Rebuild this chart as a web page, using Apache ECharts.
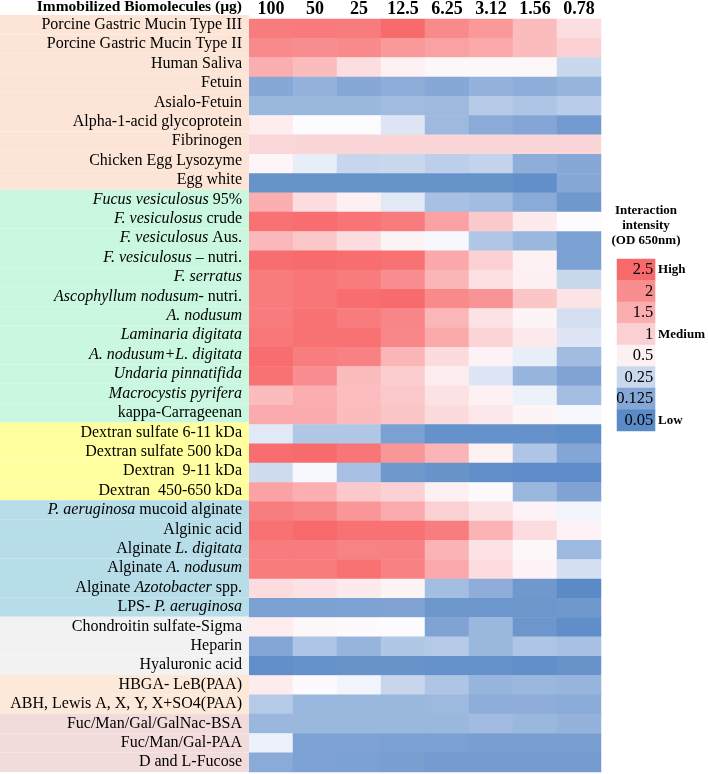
<!DOCTYPE html>
<html>
<head>
<meta charset="utf-8">
<script src="https://cdn.jsdelivr.net/npm/echarts@6/dist/echarts.min.js"></script>
<style>
  html, body { margin: 0; padding: 0; background: #fff; }
  #chart { width: 708px; height: 774px; }
</style>
</head>
<body>
<div id="chart"></div>
<script>
var concentrations = ["100", "50", "25", "12.5", "6.25", "3.12", "1.56", "0.78"];

var biomolecules = [
  "Porcine Gastric Mucin Type III",
  "Porcine Gastric Mucin Type II",
  "Human Saliva",
  "Fetuin",
  "Asialo-Fetuin",
  "Alpha-1-acid glycoprotein",
  "Fibrinogen",
  "Chicken Egg Lysozyme",
  "Egg white",
  "{i|Fucus vesiculosus} 95%",
  "{i|F. vesiculosus} crude",
  "{i|F. vesiculosus} Aus.",
  "{i|F. vesiculosus} – nutri.",
  "{i|F. serratus}",
  "{i|Ascophyllum nodusum}- nutri.",
  "{i|A. nodusum}",
  "{i|Laminaria digitata}",
  "{i|A. nodusum+L. digitata}",
  "{i|Undaria pinnatifida}",
  "{i|Macrocystis pyrifera}",
  "kappa-Carrageenan",
  "Dextran sulfate 6-11 kDa",
  "Dextran sulfate 500 kDa",
  "Dextran  9-11 kDa",
  "Dextran  450-650 kDa",
  "{i|P. aeruginosa} mucoid alginate",
  "Alginic acid",
  "Alginate {i|L. digitata}",
  "Alginate {i|A. nodusum}",
  "Alginate {i|Azotobacter} spp.",
  "LPS- {i|P. aeruginosa}",
  "Chondroitin sulfate-Sigma",
  "Heparin",
  "Hyaluronic acid",
  "HBGA- LeB(PAA)",
  "ABH, Lewis A, X, Y, X+SO4(PAA)",
  "Fuc/Man/Gal/GalNac-BSA",
  "Fuc/Man/Gal-PAA",
  "D and L-Fucose"
];

// rows per group, top to bottom
var groupSizes = [9, 12, 4, 6, 3, 2, 3];

// OD 650nm, one row per biomolecule, columns follow concentrations
var glycoproteinOD = [
  [2.25, 2.28, 2.25, 2.48, 2.05, 1.85, 1.3, 0.8],
  [2.05, 2.0, 2.05, 1.85, 1.7, 1.58, 1.3, 0.98],
  [1.5, 1.3, 0.8, 0.49, 0.43, 0.43, 0.43, 0.25],
  [0.125, 0.15, 0.125, 0.138, 0.125, 0.15, 0.138, 0.156],
  [0.163, 0.163, 0.163, 0.175, 0.169, 0.213, 0.2, 0.219],
  [0.55, 0.375, 0.38, 0.3, 0.169, 0.131, 0.121, 0.095],
  [0.9, 0.92, 0.92, 0.92, 0.92, 0.92, 0.92, 0.92],
  [0.45, 0.325, 0.244, 0.25, 0.225, 0.238, 0.138, 0.125],
  [0.073, 0.073, 0.073, 0.073, 0.073, 0.073, 0.061, 0.125]
];
var seaweedOD = [
  [1.5, 0.83, 0.5, 0.31, 0.188, 0.175, 0.131, 0.088],
  [2.38, 2.45, 2.35, 2.25, 1.7, 1.1, 0.6, 0.375],
  [1.35, 1.13, 0.83, 0.46, 0.36, 0.206, 0.163, 0.106],
  [2.43, 2.48, 2.45, 2.38, 1.6, 0.98, 0.49, 0.106],
  [2.25, 2.33, 2.25, 2.0, 1.4, 0.78, 0.5, 0.25],
  [2.25, 2.33, 2.45, 2.48, 2.05, 1.9, 1.15, 0.73],
  [2.25, 2.38, 2.25, 2.13, 1.38, 0.75, 0.46, 0.275],
  [2.3, 2.38, 2.4, 2.1, 1.58, 0.95, 0.6, 0.3],
  [2.43, 2.23, 2.18, 1.4, 0.85, 0.475, 0.325, 0.175],
  [2.4, 2.0, 1.3, 1.05, 0.55, 0.3, 0.156, 0.114],
  [1.3, 1.5, 1.28, 1.1, 0.75, 0.49, 0.338, 0.181],
  [1.55, 1.53, 1.3, 1.15, 0.85, 0.65, 0.46, 0.36]
];
var dextranOD = [
  [0.31, 0.206, 0.206, 0.106, 0.069, 0.069, 0.069, 0.061],
  [2.43, 2.48, 2.33, 1.88, 1.4, 0.49, 0.2, 0.121],
  [0.263, 0.36, 0.188, 0.088, 0.076, 0.061, 0.054, 0.054],
  [1.68, 1.48, 1.1, 0.98, 0.5, 0.4, 0.163, 0.114]
];
var alginateOD = [
  [2.23, 2.15, 1.88, 1.55, 1.0, 0.75, 0.475, 0.35],
  [2.38, 2.5, 2.4, 2.38, 2.23, 1.43, 0.83, 0.475],
  [2.25, 2.25, 2.15, 2.18, 1.43, 0.75, 0.43, 0.169],
  [2.25, 2.25, 2.38, 2.18, 1.58, 0.83, 0.475, 0.275],
  [0.83, 0.75, 0.6, 0.46, 0.181, 0.138, 0.088, 0.05],
  [0.106, 0.106, 0.11, 0.114, 0.084, 0.084, 0.084, 0.088]
];
var glycosaminoglycanOD = [
  [0.55, 0.43, 0.4, 0.375, 0.114, 0.163, 0.084, 0.058],
  [0.121, 0.2, 0.156, 0.206, 0.213, 0.163, 0.2, 0.188],
  [0.061, 0.069, 0.076, 0.076, 0.069, 0.069, 0.061, 0.076]
];
var hbgaOD = [
  [0.58, 0.4, 0.35, 0.244, 0.2, 0.156, 0.163, 0.156],
  [0.213, 0.163, 0.163, 0.163, 0.169, 0.138, 0.138, 0.131]
];
var fucoseOD = [
  [0.163, 0.163, 0.163, 0.163, 0.163, 0.175, 0.163, 0.15],
  [0.338, 0.11, 0.11, 0.106, 0.106, 0.103, 0.103, 0.103],
  [0.131, 0.11, 0.106, 0.103, 0.097, 0.097, 0.097, 0.097]
];

var legendValues = ["2.5", "2", "1.5", "1", "0.5", "0.25", "0.125", "0.05"];
var legendWords = { "2.5": "High", "1": "Medium", "0.05": "Low" };

var FONT = "Liberation Serif";
var groupColors = ["#fce5d7", "#c9f7df", "#ffff9f", "#b7dde8", "#f2f2f2", "#fde9d9", "#f2dcdb"];
var scaleColors = [
  "#5b8bc7", "#6f98cd", "#87a8d7", "#a7c0e3", "#cad8ee",
  "#fcfcff", "#fdf0f2", "#fce2e4", "#fbd0d2", "#fbbfc1",
  "#fbaeb0", "#fa9ea0", "#f98e90", "#f87c7e", "#f8696b"
];

// position of an OD value on the legend's steps (0 = 0.05 ... 7 = 2.5)
var steps = legendValues.map(Number).reverse();
function level(od) {
  if (od <= steps[0]) return 0;
  for (var i = 1; i < steps.length; i++) {
    if (od <= steps[i]) return i - 1 + (od - steps[i - 1]) / (steps[i] - steps[i - 1]);
  }
  return steps.length - 1;
}

var allRows = [].concat(glycoproteinOD, seaweedOD, dextranOD, alginateOD,
  glycosaminoglycanOD, hbgaOD, fucoseOD);

var cells = [];
allRows.forEach(function (row, r) {
  row.forEach(function (od, c) {
    cells.push([c, r, level(od), od]);
  });
});

var rowGroup = [];
groupSizes.forEach(function (n, g) {
  for (var k = 0; k < n; k++) rowGroup.push(g);
});

var chart = echarts.init(document.getElementById("chart"), null, { renderer: "canvas" });

chart.setOption({
  animation: false,
  backgroundColor: "#fff",
  textStyle: { fontFamily: FONT, color: "#000" },
  title: [
    {
      text: "Immobilized Biomolecules (µg)",
      right: 466, top: -1, padding: 0,
      textStyle: { fontFamily: FONT, fontSize: 15.5, fontWeight: "bold", color: "#000" }
    },
    {
      text: "Interaction\nintensity\n(OD 650nm)",
      left: 646, top: 203, padding: 0, textAlign: "center",
      textStyle: { fontFamily: FONT, fontSize: 13, fontWeight: "bold", color: "#000", lineHeight: 15 }
    }
  ],
  grid: [
    { left: 249, top: 15, width: 352, height: 757 },
    { left: 0, top: 15, width: 249, height: 757 },
    { left: 617, top: 259, width: 40, height: 172 }
  ],
  xAxis: [
    {
      type: "category", gridIndex: 0, data: concentrations, position: "top",
      axisLine: { show: false }, axisTick: { show: false },
      axisLabel: { fontFamily: FONT, fontSize: 18, fontWeight: "bold", color: "#000", margin: 1 }
    },
    { type: "value", gridIndex: 1, min: 0, max: 1, show: false },
    { type: "category", gridIndex: 2, data: ["OD"], show: false }
  ],
  yAxis: [
    { type: "category", gridIndex: 0, data: biomolecules, inverse: true, show: false },
    { type: "category", gridIndex: 1, data: biomolecules, inverse: true, show: false },
    {
      type: "category", gridIndex: 2, data: legendValues, inverse: true, position: "right",
      axisLine: { show: false }, axisTick: { show: false },
      axisLabel: {
        interval: 0, margin: 3, fontFamily: FONT, fontSize: 13, fontWeight: "bold", color: "#000",
        formatter: function (v) { return legendWords[v] || ""; }
      }
    }
  ],
  visualMap: {
    type: "continuous", show: false, min: 0, max: steps.length - 1,
    dimension: 2, seriesIndex: [1, 2],
    inRange: { color: scaleColors }
  },
  series: [
    {
      type: "bar", xAxisIndex: 1, yAxisIndex: 1, barCategoryGap: 0,
      data: biomolecules.map(function (name, i) {
        return { value: 1, itemStyle: { color: groupColors[rowGroup[i]] } };
      }),
      label: {
        show: true, position: "insideRight", distance: 7,
        fontFamily: FONT, fontSize: 16, color: "#000",
        formatter: function (p) { return biomolecules[p.dataIndex]; },
        rich: { i: { fontFamily: FONT, fontSize: 16, fontStyle: "italic", color: "#000" } }
      }
    },
    {
      type: "heatmap", xAxisIndex: 0, yAxisIndex: 0, data: cells
    },
    {
      type: "heatmap", xAxisIndex: 2, yAxisIndex: 2,
      data: legendValues.map(function (v, i) { return [0, i, level(Number(v)), v]; }),
      label: {
        show: true, position: "insideRight", distance: 2,
        fontFamily: FONT, fontSize: 16.5, color: "#000",
        formatter: function (p) { return p.data[3]; }
      }
    }
  ]
});
</script>
</body>
</html>
